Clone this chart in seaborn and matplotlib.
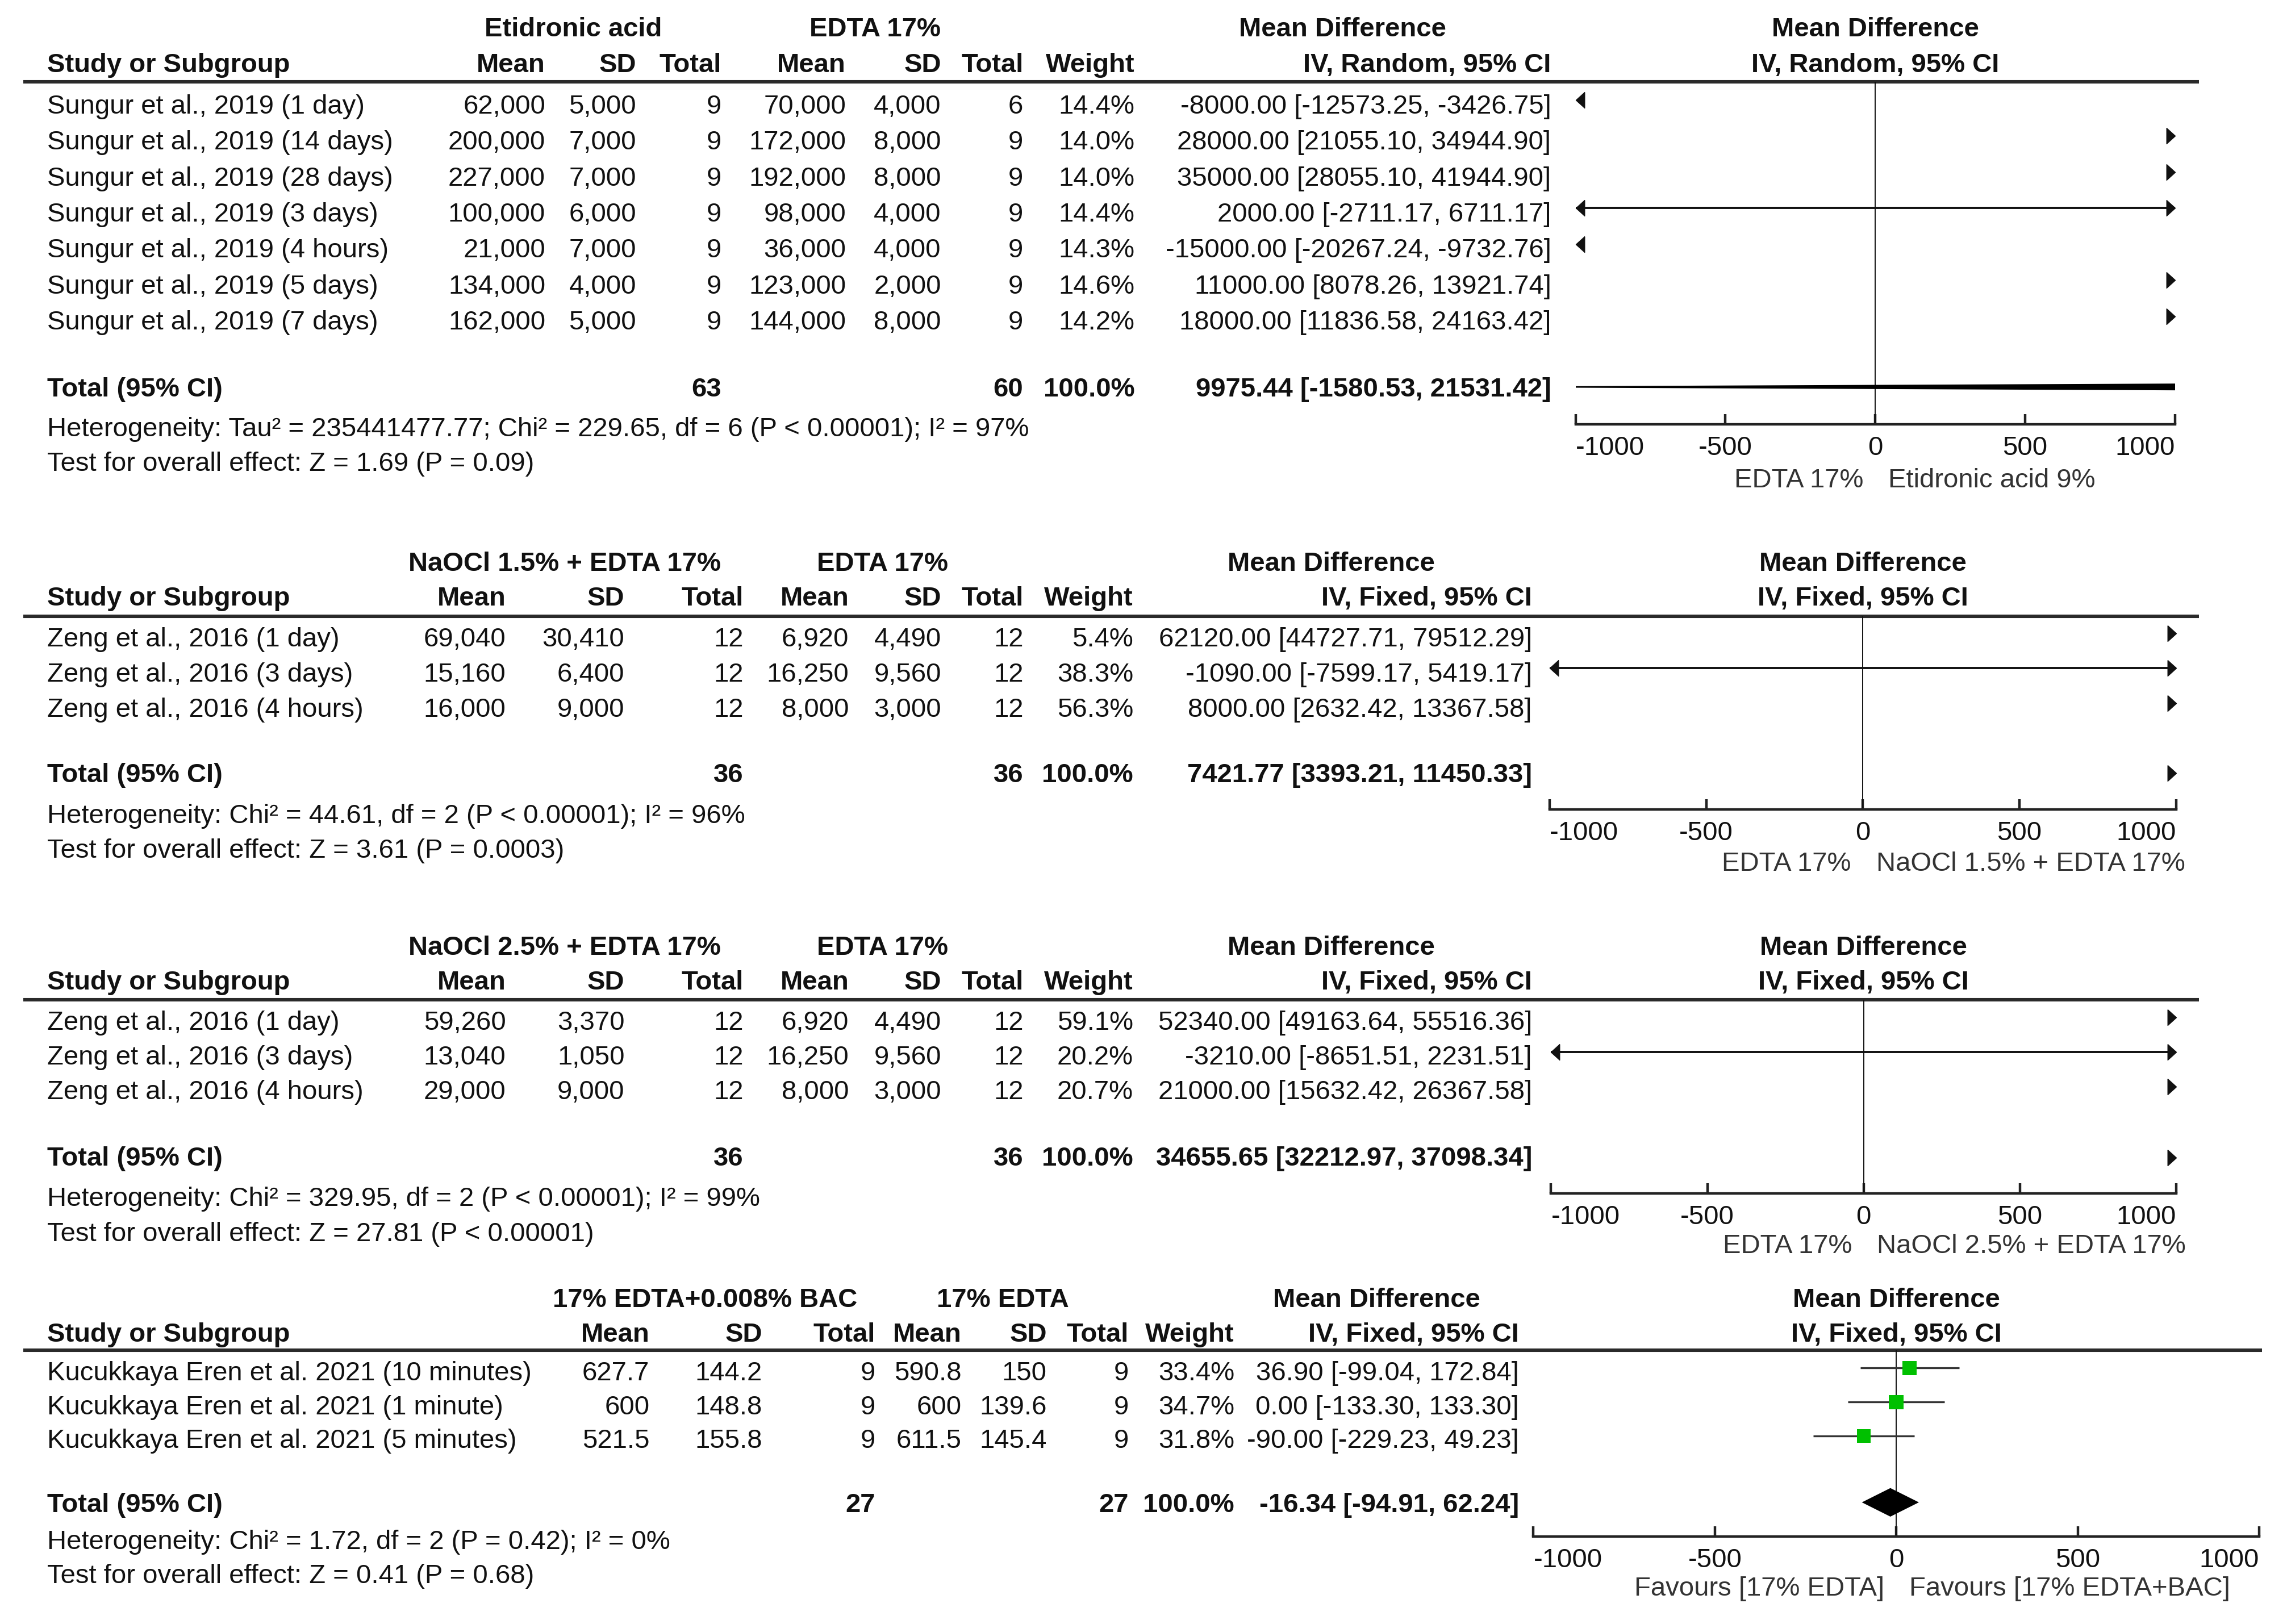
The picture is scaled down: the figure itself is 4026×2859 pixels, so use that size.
import numpy as np
import pandas as pd
import matplotlib
matplotlib.use("Agg")
import matplotlib.pyplot as plt
import seaborn as sns

sns.set_theme(style="white")
plt.rcParams['font.family'] = ['Liberation Sans', 'DejaVu Sans']

# ---------------- DATA ----------------
# Panel 1: Etidronic acid vs EDTA 17%
p1_studies = ["Sungur et al., 2019 (1 day)", "Sungur et al., 2019 (14 days)", "Sungur et al., 2019 (28 days)",
              "Sungur et al., 2019 (3 days)", "Sungur et al., 2019 (4 hours)", "Sungur et al., 2019 (5 days)",
              "Sungur et al., 2019 (7 days)"]
p1_mean1 = [62000, 200000, 227000, 100000, 21000, 134000, 162000]
p1_sd1 = [5000, 7000, 7000, 6000, 7000, 4000, 5000]
p1_n1 = [9, 9, 9, 9, 9, 9, 9]
p1_mean2 = [70000, 172000, 192000, 98000, 36000, 123000, 144000]
p1_sd2 = [4000, 8000, 8000, 4000, 4000, 2000, 8000]
p1_n2 = [6, 9, 9, 9, 9, 9, 9]
p1_weight = [14.4, 14.0, 14.0, 14.4, 14.3, 14.6, 14.2]
p1_md = [-8000.00, 28000.00, 35000.00, 2000.00, -15000.00, 11000.00, 18000.00]
p1_lo = [-12573.25, 21055.10, 28055.10, -2711.17, -20267.24, 8078.26, 11836.58]
p1_hi = [-3426.75, 34944.90, 41944.90, 6711.17, -9732.76, 13921.74, 24163.42]
p1_total = [63, 60, 9975.44, -1580.53, 21531.42]
p1_groups = ["Etidronic acid", "EDTA 17%"]
p1_method = "IV, Random, 95% CI"
p1_favours = ["EDTA 17%", "Etidronic acid 9%"]
p1_het = "Heterogeneity: Tau² = 235441477.77; Chi² = 229.65, df = 6 (P < 0.00001); I² = 97%"
p1_test = "Test for overall effect: Z = 1.69 (P = 0.09)"

# Panel 2: NaOCl 1.5% + EDTA 17% vs EDTA 17%
p2_studies = ["Zeng et al., 2016 (1 day)", "Zeng et al., 2016 (3 days)", "Zeng et al., 2016 (4 hours)"]
p2_mean1 = [69040, 15160, 16000]
p2_sd1 = [30410, 6400, 9000]
p2_n1 = [12, 12, 12]
p2_mean2 = [6920, 16250, 8000]
p2_sd2 = [4490, 9560, 3000]
p2_n2 = [12, 12, 12]
p2_weight = [5.4, 38.3, 56.3]
p2_md = [62120.00, -1090.00, 8000.00]
p2_lo = [44727.71, -7599.17, 2632.42]
p2_hi = [79512.29, 5419.17, 13367.58]
p2_total = [36, 36, 7421.77, 3393.21, 11450.33]
p2_groups = ["NaOCl 1.5% + EDTA 17%", "EDTA 17%"]
p2_method = "IV, Fixed, 95% CI"
p2_favours = ["EDTA 17%", "NaOCl 1.5% + EDTA 17%"]
p2_het = "Heterogeneity: Chi² = 44.61, df = 2 (P < 0.00001); I² = 96%"
p2_test = "Test for overall effect: Z = 3.61 (P = 0.0003)"

# Panel 3: NaOCl 2.5% + EDTA 17% vs EDTA 17%
p3_studies = ["Zeng et al., 2016 (1 day)", "Zeng et al., 2016 (3 days)", "Zeng et al., 2016 (4 hours)"]
p3_mean1 = [59260, 13040, 29000]
p3_sd1 = [3370, 1050, 9000]
p3_n1 = [12, 12, 12]
p3_mean2 = [6920, 16250, 8000]
p3_sd2 = [4490, 9560, 3000]
p3_n2 = [12, 12, 12]
p3_weight = [59.1, 20.2, 20.7]
p3_md = [52340.00, -3210.00, 21000.00]
p3_lo = [49163.64, -8651.51, 15632.42]
p3_hi = [55516.36, 2231.51, 26367.58]
p3_total = [36, 36, 34655.65, 32212.97, 37098.34]
p3_groups = ["NaOCl 2.5% + EDTA 17%", "EDTA 17%"]
p3_method = "IV, Fixed, 95% CI"
p3_favours = ["EDTA 17%", "NaOCl 2.5% + EDTA 17%"]
p3_het = "Heterogeneity: Chi² = 329.95, df = 2 (P < 0.00001); I² = 99%"
p3_test = "Test for overall effect: Z = 27.81 (P < 0.00001)"

# Panel 4: 17% EDTA+0.008% BAC vs 17% EDTA
p4_studies = ["Kucukkaya Eren et al. 2021 (10 minutes)", "Kucukkaya Eren et al. 2021 (1 minute)",
              "Kucukkaya Eren et al. 2021 (5 minutes)"]
p4_mean1 = [627.7, 600, 521.5]
p4_sd1 = [144.2, 148.8, 155.8]
p4_n1 = [9, 9, 9]
p4_mean2 = [590.8, 600, 611.5]
p4_sd2 = [150, 139.6, 145.4]
p4_n2 = [9, 9, 9]
p4_weight = [33.4, 34.7, 31.8]
p4_md = [36.90, 0.00, -90.00]
p4_lo = [-99.04, -133.30, -229.23]
p4_hi = [172.84, 133.30, 49.23]
p4_total = [27, 27, -16.34, -94.91, 62.24]
p4_groups = ["17% EDTA+0.008% BAC", "17% EDTA"]
p4_method = "IV, Fixed, 95% CI"
p4_favours = ["Favours [17% EDTA]", "Favours [17% EDTA+BAC]"]
p4_het = "Heterogeneity: Chi² = 1.72, df = 2 (P = 0.42); I² = 0%"
p4_test = "Test for overall effect: Z = 0.41 (P = 0.68)"

axis_ticks = [-1000, -500, 0, 500, 1000]
axis_ticklabels = ["-1000", "-500", "0", "500", "1000"]

# ---------------- LAYOUT (reference pixel grid 1560 x 1108) ----------------
W, H = 1560.0, 1108.0
FS = 34
TXT = "#111111"

def fmt_int(v):
    return f"{v:,.0f}"

def fmt_g(v):
    return f"{v:g}"

panels = [
    dict(studies=p1_studies, m1=p1_mean1, s1=p1_sd1, n1=p1_n1, m2=p1_mean2, s2=p1_sd2, n2=p1_n2,
         w=p1_weight, md=p1_md, lo=p1_lo, hi=p1_hi, total=p1_total, groups=p1_groups, method=p1_method,
         favours=p1_favours, het=p1_het, test=p1_test, fmt=fmt_int,
         gy=20, hy=44.5, line_y=56, line_x=(16, 1500), y0=72.7, ym0=68.2, sp=24.6, ty=266, tym=264,
         hety=293, testy=316.5, axis_y=289.6, ax_x=(1074.7, 1483.5), fav_y=327.7,
         gx=(391, 597, 915.6), cx=(372, 434, 492, 577, 642, 698, 774, 1058), square=False),
    dict(studies=p2_studies, m1=p2_mean1, s1=p2_sd1, n1=p2_n1, m2=p2_mean2, s2=p2_sd2, n2=p2_n2,
         w=p2_weight, md=p2_md, lo=p2_lo, hi=p2_hi, total=p2_total, groups=p2_groups, method=p2_method,
         favours=p2_favours, het=p2_het, test=p2_test, fmt=fmt_int,
         gy=385, hy=408.5, line_y=420.6, line_x=(16, 1500), y0=436.5, ym0=432, sp=23.9, ty=529, tym=527.6,
         hety=556.8, testy=580.6, axis_y=552.3, ax_x=(1057, 1484.4), fav_y=589.3,
         gx=(385, 602, 908), cx=(345, 426, 507, 579, 642, 698, 773, 1045), square=False),
    dict(studies=p3_studies, m1=p3_mean1, s1=p3_sd1, n1=p3_n1, m2=p3_mean2, s2=p3_sd2, n2=p3_n2,
         w=p3_weight, md=p3_md, lo=p3_lo, hi=p3_hi, total=p3_total, groups=p3_groups, method=p3_method,
         favours=p3_favours, het=p3_het, test=p3_test, fmt=fmt_int,
         gy=646.7, hy=670.5, line_y=682, line_x=(16, 1500), y0=697.8, ym0=694, sp=23.7, ty=790.5, tym=789.7,
         hety=818, testy=842, axis_y=814.3, ax_x=(1058, 1484.4), fav_y=850.4,
         gx=(385, 602, 908), cx=(345, 426, 507, 579, 642, 698, 773, 1045), square=False),
    dict(studies=p4_studies, m1=p4_mean1, s1=p4_sd1, n1=p4_n1, m2=p4_mean2, s2=p4_sd2, n2=p4_n2,
         w=p4_weight, md=p4_md, lo=p4_lo, hi=p4_hi, total=p4_total, groups=p4_groups, method=p4_method,
         favours=p4_favours, het=p4_het, test=p4_test, fmt=fmt_g,
         gy=887, hy=910.7, line_y=921.3, line_x=(16, 1543), y0=937, ym0=933.4, sp=23.2, ty=1027, tym=1025,
         hety=1052, testy=1075.6, axis_y=1048.5, ax_x=(1046, 1541), fav_y=1084,
         gx=(481, 684, 939), cx=(443, 520, 597, 656, 714, 770, 842, 1036), square=True),
]

fig = plt.figure(figsize=(40.26, 28.59), dpi=100)
bg = fig.add_axes([0, 0, 1, 1])
bg.set_xlim(0, W)
bg.set_ylim(H, 0)
bg.axis("off")

RIGHT_ARROW = [(-1.1, 1), (0, 0), (-1.1, -1), (-1.1, 1)]
LEFT_ARROW = [(1.1, 1), (0, 0), (1.1, -1), (1.1, 1)]
ARROW_MS = 22

def t(x, y, s, ha="left", bold=False, color=TXT, size=FS):
    bg.text(x, y, s, ha=ha, va="center", fontsize=size, color=color,
            fontweight="bold" if bold else "normal")

for p in panels:
    cx = p["cx"]
    gx = p["gx"]
    fmt = p["fmt"]
    x0, x1 = p["ax_x"]
    xmin, xmax = axis_ticks[0], axis_ticks[-1]
    zero_px = x0 + (0 - xmin) / (xmax - xmin) * (x1 - x0)

    # group headers
    t(gx[0], p["gy"], p["groups"][0], ha="center", bold=True)
    t(gx[1], p["gy"], p["groups"][1], ha="center", bold=True)
    t(gx[2], p["gy"], "Mean Difference", ha="center", bold=True)
    t(zero_px, p["gy"], "Mean Difference", ha="center", bold=True)
    # column headers
    t(32, p["hy"], "Study or Subgroup", bold=True)
    for x, lab in zip(cx[:7], ["Mean", "SD", "Total", "Mean", "SD", "Total", "Weight"]):
        t(x, p["hy"], lab, ha="right", bold=True)
    t(cx[7], p["hy"], p["method"], ha="right", bold=True)
    t(zero_px, p["hy"], p["method"], ha="center", bold=True)
    # header rule
    bg.hlines(p["line_y"], p["line_x"][0], p["line_x"][1], color="#2a2a2a", lw=4.4)
    # study rows
    for i, s in enumerate(p["studies"]):
        y = p["y0"] + i * p["sp"]
        t(32, y, s)
        vals = [fmt(p["m1"][i]), fmt(p["s1"][i]), str(p["n1"][i]),
                fmt(p["m2"][i]), fmt(p["s2"][i]), str(p["n2"][i]), f"{p['w'][i]:.1f}%",
                f"{p['md'][i]:.2f} [{p['lo'][i]:.2f}, {p['hi'][i]:.2f}]"]
        for x, v in zip(cx[:8], vals):
            t(x, y, v, ha="right")
    # total row
    tot = p["total"]
    t(32, p["ty"], "Total (95% CI)", bold=True)
    t(cx[2], p["ty"], str(tot[0]), ha="right", bold=True)
    t(cx[5], p["ty"], str(tot[1]), ha="right", bold=True)
    t(cx[6], p["ty"], "100.0%", ha="right", bold=True)
    t(cx[7], p["ty"], f"{tot[2]:.2f} [{tot[3]:.2f}, {tot[4]:.2f}]", ha="right", bold=True)
    t(32, p["hety"], p["het"])
    t(32, p["testy"], p["test"])

    # ---------- forest axes ----------
    top, bot = p["line_y"], p["axis_y"]
    ax = fig.add_axes([x0 / W, 1 - bot / H, (x1 - x0) / W, (bot - top) / H])
    ax.patch.set_alpha(0)
    ax.set_xlim(xmin, xmax)
    ax.set_ylim((bot - p["ym0"]) / p["sp"], (top - p["ym0"]) / p["sp"])
    for sp_name in ["left", "right", "top"]:
        ax.spines[sp_name].set_visible(False)
    ax.spines["bottom"].set_linewidth(3.2)
    ax.spines["bottom"].set_color("#222222")
    ax.set_yticks([])
    ax.set_xticks(axis_ticks)
    ax.set_xticklabels(axis_ticklabels)
    ax.tick_params(axis="x", direction="in", length=13, width=3.2, pad=14, labelsize=FS,
                   colors="#222222", labelcolor=TXT, bottom=True)
    labs = ax.get_xticklabels()
    labs[0].set_ha("left")
    labs[-1].set_ha("right")
    ax.axvline(0, color="#111111", lw=1.4, zorder=1)

    rows = np.arange(len(p["studies"]))
    df = pd.DataFrame({"md": p["md"], "lo": p["lo"], "hi": p["hi"], "w": p["w"], "row": rows})
    ci_color = "#333333" if p["square"] else "#111111"
    ci_lw = 2.4 if p["square"] else 2.8
    for _, r in df.iterrows():
        lo_c, hi_c = max(r["lo"], xmin), min(r["hi"], xmax)
        if lo_c < hi_c:
            ax.plot([lo_c, hi_c], [r["row"], r["row"]], color=ci_color, lw=ci_lw, solid_capstyle="butt",
                    zorder=2)
        if r["hi"] > xmax:
            ax.plot([xmax], [r["row"]], marker=RIGHT_ARROW, markersize=ARROW_MS, color="#111111",
                    clip_on=False, zorder=3, lw=0)
        if r["lo"] < xmin:
            ax.plot([xmin], [r["row"]], marker=LEFT_ARROW, markersize=ARROW_MS, color="#111111",
                    clip_on=False, zorder=3, lw=0)
    inside = df[(df["md"] >= xmin) & (df["md"] <= xmax)]
    if p["square"] and len(inside):
        sns.scatterplot(data=inside, x="md", y="row", size="w", sizes=(300, 340), marker="s",
                        color="#00C000", linewidth=0, legend=False, ax=ax, zorder=4)
    # total diamond
    ty_d = (p["tym"] - p["ym0"]) / p["sp"]
    md_t, lo_t, hi_t = tot[2], tot[3], tot[4]
    h = 0.42
    if hi_t > xmin and lo_t < xmax:
        ax.fill([lo_t, md_t, hi_t, md_t], [ty_d, ty_d - h, ty_d, ty_d + h], color="black", lw=0, zorder=5)
    elif lo_t >= xmax:
        ax.plot([xmax], [ty_d], marker=RIGHT_ARROW, markersize=ARROW_MS, color="#111111", clip_on=False, lw=0)
    else:
        ax.plot([xmin], [ty_d], marker=LEFT_ARROW, markersize=ARROW_MS, color="#111111", clip_on=False, lw=0)
    ax.set_xlabel("")
    ax.set_ylabel("")

    # favours labels
    t(zero_px - 8, p["fav_y"], p["favours"][0], ha="right", color="#333333")
    t(zero_px + 9, p["fav_y"], p["favours"][1], ha="left", color="#333333")

fig.savefig("out.png", dpi=100)
